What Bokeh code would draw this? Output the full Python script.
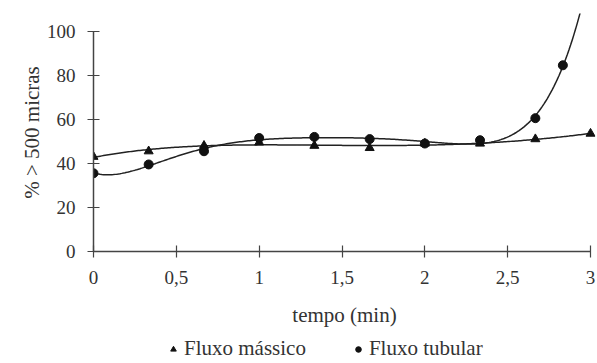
import numpy as np
from bokeh.plotting import figure
from bokeh.layouts import column
from bokeh.models import Range1d, FixedTicker, Legend, LegendItem, CustomJSTickFormatter
from bokeh.embed import file_html
from bokeh.resources import INLINE

# data
t_massico = [0, 0.333, 0.667, 1.0, 1.333, 1.667, 2.0, 2.333, 2.667, 3.0]
y_massico = [43, 45.5, 48, 49.5, 48, 47, 49, 49, 51, 53.5]
t_tubular = [0, 0.333, 0.667, 1.0, 1.333, 1.667, 2.0, 2.333, 2.667, 2.833]
y_tubular = [35.5, 39.5, 45.5, 51.5, 52, 51, 49, 50.5, 60.5, 84.5]
x_ticks = [0, 0.5, 1, 1.5, 2, 2.5, 3]
y_ticks = [0, 20, 40, 60, 80, 100]
series_names = ["Fluxo mássico", "Fluxo tubular"]

FONT = "Liberation Serif"

p = figure(frame_width=502, frame_height=238, output_backend="svg", toolbar_location=None,
           x_range=Range1d(0, 3.03), y_range=Range1d(0, 108),
           min_border_left=93, min_border_right=2, min_border_top=13, min_border_bottom=84)
p.outline_line_color = None
p.grid.visible = False
p.background_fill_color = "white"

# trend lines (polynomial fits of the data)
xx = np.linspace(0, 3, 300)
cm = np.polyfit(t_massico, y_massico, 4)
ct = np.polyfit(t_tubular, y_tubular, 6)
p.line(xx, np.polyval(cm, xx), line_color="#222222", line_width=1.5)
p.line(xx, np.polyval(ct, xx), line_color="#222222", line_width=1.5)

p.scatter(t_massico, y_massico, marker="triangle", size=9, color="#111111")
p.scatter(t_tubular, y_tubular, marker="circle", size=9, color="#111111")

for ax in (p.xaxis[0], p.yaxis[0]):
    ax.axis_line_color = "#444444"
    ax.axis_line_width = 1.5
    ax.major_tick_line_color = "#444444"
    ax.major_tick_line_width = 1.2
    ax.major_tick_in = 6
    ax.major_tick_out = 6
    ax.minor_tick_line_color = None
    ax.major_label_text_font = FONT
    ax.major_label_text_font_size = "19px"
    ax.major_label_text_color = "#333333"
    ax.axis_label_text_font = FONT
    ax.axis_label_text_font_size = "21px"
    ax.axis_label_text_font_style = "normal"
    ax.axis_label_text_color = "#333333"

p.xaxis.ticker = FixedTicker(ticks=x_ticks)
p.yaxis.ticker = FixedTicker(ticks=y_ticks)
p.xaxis.formatter = CustomJSTickFormatter(code="return String(tick).replace('.', ',')")
p.xaxis.bounds = (0, 3)
p.yaxis.bounds = (0, 100)
p.xaxis.axis_label = "tempo (min)"
p.yaxis.axis_label = "% > 500 micras"
p.xaxis.major_label_standoff = 13
p.yaxis.major_label_standoff = 12
p.xaxis.axis_label_standoff = 16
p.yaxis.axis_label_standoff = 0

# legend strip (separate figure; its key renderers lie outside its visible range)
lg = figure(width=597, height=26, output_backend="svg", toolbar_location=None,
            x_axis_type=None, y_axis_type=None, min_border=0,
            x_range=Range1d(100, 101), y_range=Range1d(1000, 1001))
lg.outline_line_color = None
lg.grid.visible = False
k1 = lg.scatter(x=t_massico[:1], y=y_massico[:1], marker="triangle", size=8, color="#111111")
k2 = lg.scatter(x=t_tubular[:1], y=y_tubular[:1], marker="circle", size=9, color="#111111")
legend = Legend(items=[LegendItem(label=series_names[0], renderers=[k1]),
                       LegendItem(label=series_names[1], renderers=[k2])],
                orientation="horizontal", location=(73, 0),
                label_text_font=FONT, label_text_font_size="21px",
                label_text_color="#333333", border_line_color=None,
                background_fill_alpha=0, spacing=45, glyph_width=14,
                glyph_height=18, label_height=18,
                label_standoff=4, margin=0, padding=1)
lg.add_layout(legend, "center")

layout = column(p, lg, spacing=0)
open("out.html", "w").write(file_html(layout, INLINE))
